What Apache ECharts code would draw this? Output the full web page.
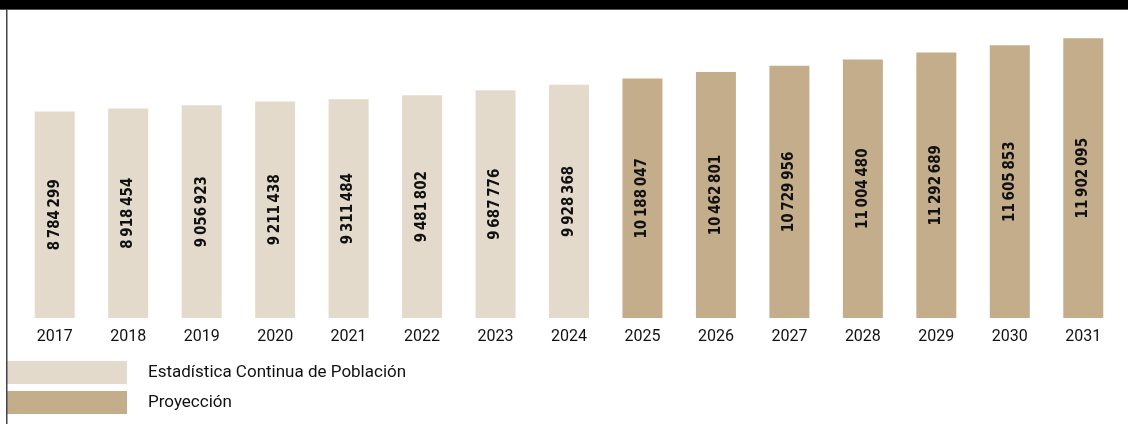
<!DOCTYPE html>
<html>
<head>
<meta charset="utf-8">
<style>html,body{margin:0;padding:0;background:#fff}#c{width:1128px;height:424px}</style>
<script src="https://cdn.jsdelivr.net/npm/echarts@6/dist/echarts.min.js"></script>
</head>
<body>
<div id="c"></div>
<script>
const years = ['2017','2018','2019','2020','2021','2022','2023','2024','2025','2026','2027','2028','2029','2030','2031'];
const observed = [8784299, 8918454, 9056923, 9211438, 9311484, 9481802, 9687776, 9928368, null, null, null, null, null, null, null];
const projected = [null, null, null, null, null, null, null, null, 10188047, 10462801, 10729956, 11004480, 11292689, 11605853, 11902095];
const seriesNames = ['Estadística Continua de Población', 'Proyección'];
const titleText = 'Población de 65 años y más en España (2017-2024) y proyección (2025-2031), según Estadística Continua de Población y Proyecciones de Población';

function fmt(v){
  return String(v).replace(/\B(?=(\d{3})+(?!\d))/g, '\u2009');
}
const labelCfg = {
  show: true, position: 'inside', rotate: 90,
  fontFamily: '"DejaVu Sans"',
  fontStyle: 'normal',
  fontWeight: 'bold condensed',
  fontSize: 15, color: '#111',
  formatter: p => fmt(p.value)
};
const chart = echarts.init(document.getElementById('c'), null, {renderer:'canvas'});
chart.setOption({
  animation: false,
  grid: {left: 18, right: 8, top: 36, bottom: 106},
  xAxis: {
    type: 'category', data: years,
    axisLine: {show: false}, axisTick: {show: false},
    axisLabel: {color: '#111', fontSize: 16, fontFamily: 'Roboto, sans-serif', margin: 11}
  },
  yAxis: {type: 'value', min: 0, max: 12000000, show: false, splitLine: {show: false}},
  legend: {
    orient: 'vertical', left: 2, top: 356, itemWidth: 120, itemHeight: 23, itemGap: 7,
    icon: 'rect',
    textStyle: {color: '#111', fontSize: 17, fontFamily: 'Roboto, sans-serif', padding: [0,0,0,16]},
    data: seriesNames
  },
  series: [
    {name: seriesNames[0], type: 'bar', data: observed, barWidth: 40, barGap: '-100%',
     itemStyle: {color: '#E3DACC'}, label: labelCfg},
    {name: seriesNames[1], type: 'bar', data: projected, barWidth: 40, barGap: '-100%',
     itemStyle: {color: '#C3AD8B'}, label: labelCfg}
  ],
  graphic: [
    {type: 'rect', left: 0, top: 0, shape: {width: 1128, height: 9}, style: {fill: '#000'}, z: 10},
    {type: 'text', left: 120, top: -19, style: {text: titleText, fill: '#fff', font: 'bold 17px Inter, sans-serif'}, z: 11},
    {type: 'rect', left: 0, top: 9, shape: {width: 1128, height: 1}, style: {fill: '#555'}, z: 12},
    {type: 'rect', left: 6, top: 9, shape: {width: 1.5, height: 415}, style: {fill: '#444'}, z: 12}
  ]
});
</script>
</body>
</html>
